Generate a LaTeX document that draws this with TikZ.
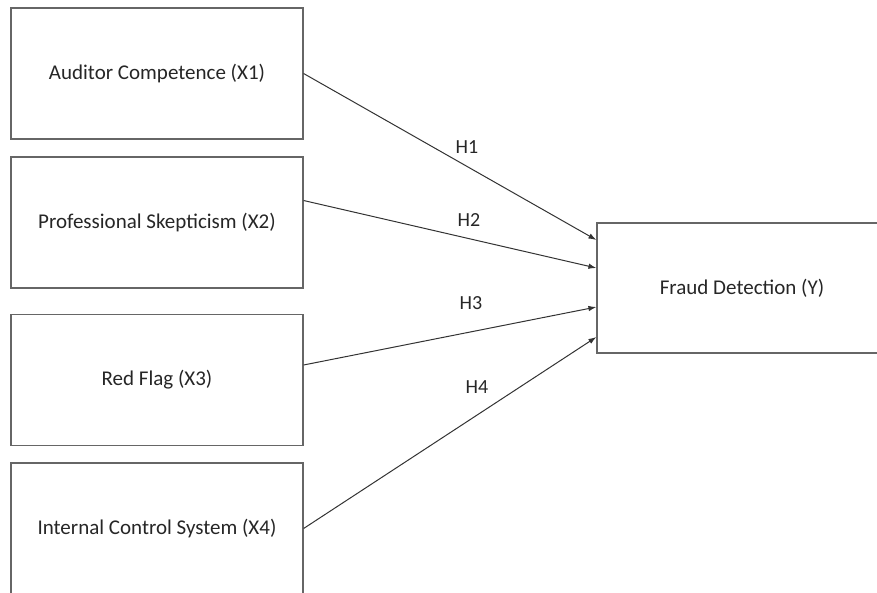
\documentclass[tikz,border=0pt]{standalone}
\usepackage{fontspec}
\setmainfont{Carlito}
\usetikzlibrary{arrows.meta,
                positioning}

\begin{document}
\begin{tikzpicture}[x=1pt,y=-1pt]
                % define styles
\tikzset{var/.style={rectangle,
                     draw=black!60,
                     line width=1.2pt,
                     minimum width=292pt,
                     minimum height=131pt,
                     inner sep=0,
                     text=black!85,
                     font=\fontsize{21}{25}\selectfont
                     },
         hyp/.style={text=black!85,
                     inner sep=0,
                     font=\fontsize{20}{24}\selectfont
                     },
         link/.style={->,
                      >={Latex[length=8pt,width=5.5pt]},
                      draw=black!80,
                      line width=1pt
                      }
}

% canvas
\path[use as bounding box, clip] (0,0) rectangle (877,592);

% nodes
\node[var]   (x1) at (157,73.5)   {Auditor Competence (X1)};
\node[var]   (x2) at (157,222.5)  {Professional Skepticism (X2)};
\node[var]   (x3) at (157,380)    {Red Flag (X3)};
\node[var]   (x4) at (157,528.5)  {Internal Control System (X4)};
\node[var, minimum width=290pt, minimum height=130pt] (fd) at (742,288) {Fraud Detection (Y)};

% hypotheses
\draw[link] (x1.east)               -- ([yshift=48pt]fd.west);
\draw[link] ([yshift=22pt]x2.east)  -- ([yshift=20pt]fd.west);
\draw[link] ([yshift=15pt]x3.east)  -- ([yshift=-19pt]fd.west);
\draw[link] (x4.east)               -- ([yshift=-49pt]fd.west);

% labels
\node[hyp] (h1) at (467,147) {H1};
\node[hyp] (h2) at (469,220) {H2};
\node[hyp] (h3) at (471,303) {H3};
\node[hyp] (h4) at (477,387) {H4};

\end{tikzpicture}
\end{document}
